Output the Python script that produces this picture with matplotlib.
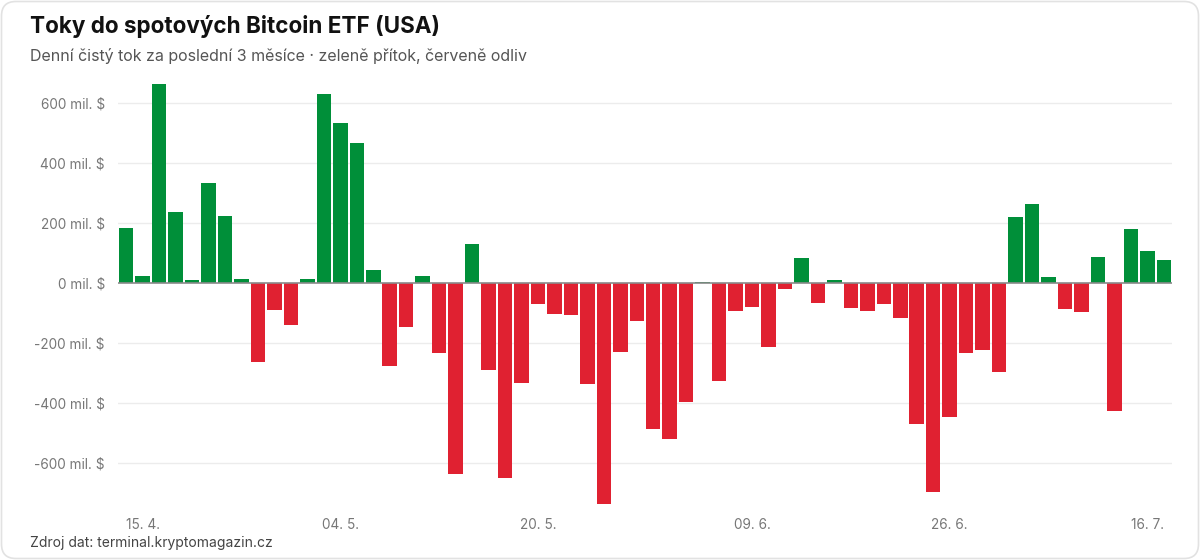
import matplotlib
matplotlib.use("Agg")
import matplotlib.pyplot as plt
from matplotlib.patches import FancyBboxPatch

# daily net flow, mil. $
flows = [184, 24, 662, 236, 10, 334, 222, 13, -264, -90, -139, 13, 629, 532, 467, 44,
         -278, -147, 24, -234, -638, 130, -291, -651, -332, -71, -102, -107, -336, -736,
         -230, -127, -486, -521, -398, 2, -328, -92, -79, -214, -20, 84, -66, 9, -83, -92,
         -70, -116, -471, -698, -446, -232, -224, -296, 220, 264, 19, -86, -97, 88, -427,
         179, 106, 78]
tick_pos = [1, 13, 25, 38, 50, 62]
tick_labels = ["15. 4.", "04. 5.", "20. 5.", "09. 6.", "26. 6.", "16. 7."]
y_ticks = [-600, -400, -200, 0, 200, 400, 600]

GREEN = "#008f39"
RED = "#e02131"

plt.rcParams['font.family'] = ['Inter', 'DejaVu Sans']

fig = plt.figure(figsize=(12, 5.6), dpi=100)
fig.patch.set_facecolor("white")

# card border
card = FancyBboxPatch((1.5 / 1200, 1.5 / 560), 1 - 3 / 1200, 1 - 3 / 560,
                      boxstyle="round,pad=0,rounding_size=0.012",
                      transform=fig.transFigure, facecolor="white",
                      edgecolor="#e2e2e2", linewidth=1.2, mutation_aspect=1200 / 560,
                      zorder=-10)
fig.patches.append(card)

ax = fig.add_axes([118 / 1200, 1 - 510 / 560, 1054 / 1200, 435 / 560])
ax.set_zorder(5)
ax.set_facecolor("none")

x = list(range(len(flows)))
colors = [GREEN if v >= 0 else RED for v in flows]
ax.bar(x, flows, width=0.88, color=colors, zorder=3)

ax.set_xlim(-0.5, len(flows) - 0.5)
ax.set_ylim(-757, 693)

ax.set_yticks(y_ticks)
ax.set_yticklabels([f"{v} mil. $" for v in y_ticks])
ax.set_xticks(tick_pos)
ax.set_xticklabels(tick_labels)
ax.tick_params(axis="both", length=0, colors="#777777", labelsize=9.8)
ax.tick_params(axis="y", pad=9.5)
ax.tick_params(axis="x", pad=6)

for v in y_ticks:
    if v != 0:
        ax.axhline(v, color="#ececec", linewidth=1, zorder=1)
ax.axhline(0, color="#8a8a8a", linewidth=1.2, zorder=4)

for s in ax.spines.values():
    s.set_visible(False)

fig.text(30 / 1200, 1 - 27 / 560, "Toky do spotových Bitcoin ETF (USA)",
         fontsize=16.2, fontweight="bold", color="#111111", va="center", ha="left")
fig.text(30 / 1200, 1 - 56 / 560, "Denní čistý tok za poslední 3 měsíce · zeleně přítok, červeně odliv",
         fontsize=11.5, color="#555555", va="center", ha="left")
fig.text(30 / 1200, 1 - 543 / 560, "Zdroj dat: terminal.kryptomagazin.cz",
         fontsize=10, color="#444444", va="center", ha="left")

fig.savefig("out.png", dpi=100, facecolor="white")
